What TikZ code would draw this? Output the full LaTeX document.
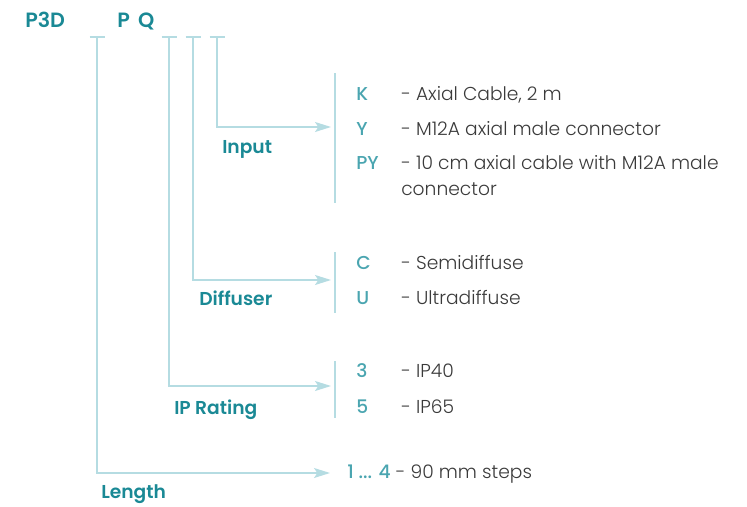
\documentclass[tikz,border=0pt]{standalone}
\usepackage{fontspec}
\setmainfont{Poppins}
\newfontfamily\lightfont{Poppins Light}
\newfontfamily\semifont{Poppins SemiBold}
\newfontfamily\mediumfont{Poppins Medium}
\usetikzlibrary{arrows.meta,positioning}
\definecolor{teal}{HTML}{1A8995}
\definecolor{codeteal}{HTML}{4AA5B0}
\definecolor{textgrey}{HTML}{3A3A3A}
\definecolor{lineblue}{HTML}{B5DCE2}

\begin{document}
\begin{tikzpicture}[
    x=0.75pt, y=-0.75pt,
    every node/.style={inner sep=0pt, font=\fontsize{14}{19.5}\selectfont},
    title/.style={anchor=base west, text=teal, font=\fontsize{15.5}{18}\selectfont\semifont},
    grouplabel/.style={anchor=base west, text=teal, font=\fontsize{14}{17}\selectfont\semifont},
    code/.style={anchor=base west, text=codeteal, font=\fontsize{14}{17}\selectfont\mediumfont},
    desc/.style={anchor=base west, text=textgrey, font=\fontsize{14}{17}\selectfont\lightfont},
    guide/.style={lineblue, line width=1.1pt},
    pointer/.style={guide, -{Stealth[length=12pt, width=7.5pt, inset=2.5pt]}},
]
\useasboundingbox (0,0) rectangle (747,507);

% Product code
\node[title] (p3d) at (25,27) {P3D};
\node[title] (pq) at (117,27) {P\hspace{0.4em}Q};

% Tick marks under the code
\foreach \name/\x in {len/97, ip/169, dif/193, inp/217} {
    \coordinate (\name) at (\x,37);
    \draw[guide] (\x-7.5,37) -- (\x+7.5,37);
}

% Option bars
\draw[guide] (335,73) -- (335,203);
\draw[guide] (335,252) -- (335,313);
\draw[guide] (335,361) -- (335,418);

% Input
\coordinate (inpend) at (331,127);
\draw[pointer] (inp) |- (inpend);
\node[grouplabel] (input) at (222,153.5) {Input};
\node[code] (k) at (356,100.5) {K};
\node[desc] (kdesc) at (401,100.5) {- Axial Cable, 2 m};
\node[code] (y) at (356,135.5) {Y};
\node[desc] (ydesc) at (401,135.5) {- M12A axial male connector};
\node[code] (py) at (356,169.5) {PY};
\node[desc] (pydesc) at (401,169.5) {- 10 cm axial cable with M12A male};
\node[desc] (pydesc2) at (401,195) {connector};

% Diffuser
\coordinate (difend) at (331,280);
\draw[pointer] (dif) |- (difend);
\node[grouplabel] (diffuser) at (199,305.5) {Diffuser};
\node[code] (c) at (356,269.5) {C};
\node[desc] (cdesc) at (401,269.5) {- Semidiffuse};
\node[code] (u) at (356,304.5) {U};
\node[desc] (udesc) at (401,304.5) {- Ultradiffuse};

% IP rating
\coordinate (ipend) at (331,386);
\draw[pointer] (ip) |- (ipend);
\node[grouplabel] (iprating) at (174,414) {IP Rating};
\node[code] (three) at (356,377.5) {3};
\node[desc] (threedesc) at (401,377.5) {- IP40};
\node[code] (five) at (356,413.5) {5};
\node[desc] (fivedesc) at (401,413.5) {- IP65};

% Length
\coordinate (lenend) at (330,473);
\draw[pointer] (len) |- (lenend);
\node[grouplabel] (length) at (101,498) {Length};
\node[desc] (steps) at (347,478.5) {\textcolor{codeteal}{\mediumfont 1 ... 4} - 90 mm steps};

\end{tikzpicture}
\end{document}
